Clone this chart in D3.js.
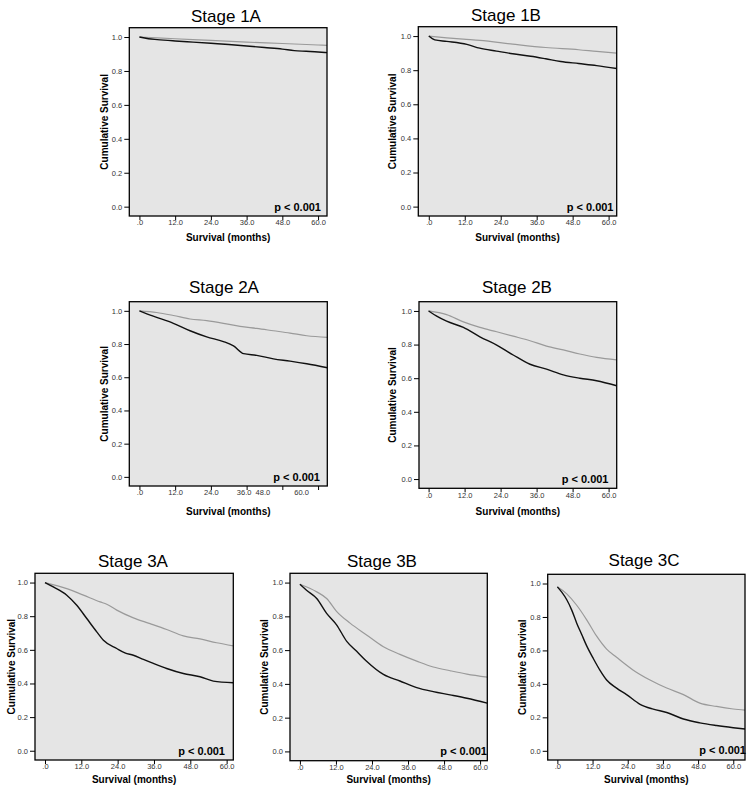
<!DOCTYPE html>
<html>
<head>
<meta charset="utf-8">
<script src="https://cdn.jsdelivr.net/npm/d3@7"></script>
<style>
  html, body { margin: 0; padding: 0; background: #ffffff; }
  svg { display: block; font-family: "Liberation Sans", Arial, sans-serif; }
</style>
</head>
<body>
<svg id="chart" width="754" height="794"></svg>
<script>
// ---------------- DATA ----------------
const stageTitles = ["Stage 1A", "Stage 1B", "Stage 2A", "Stage 2B", "Stage 3A", "Stage 3B", "Stage 3C"];
const yTickValues = [0, 0.2, 0.4, 0.6, 0.8, 1.0];
const xTickValues = [0, 12, 24, 36, 48, 60];
const pValueLabel = "p < 0.001";
const xAxisTitle = "Survival (months)";
const yAxisTitle = "Cumulative Survival";

// Stage 1A
const gray1A_months = [0, 12, 24, 36, 48, 60, 63];
const gray1A_surv   = [1.0, 0.99, 0.98, 0.97, 0.962, 0.953, 0.951];
const black1A_months = [0, 3, 6, 12, 18, 24, 30, 36, 42, 48, 52, 56, 60, 63];
const black1A_surv   = [1.0, 0.99, 0.985, 0.977, 0.97, 0.963, 0.956, 0.947, 0.938, 0.929, 0.92, 0.916, 0.912, 0.908];

// Stage 1B
const gray1B_months = [0, 6, 11.5, 17, 28, 39, 50, 56, 62.7];
const gray1B_surv   = [1.0, 0.99, 0.982, 0.975, 0.953, 0.933, 0.92, 0.91, 0.90];
const black1B_months = [0, 2, 6, 12.7, 17, 22.6, 28, 34, 39, 44, 50, 56, 62.7];
const black1B_surv   = [1.0, 0.978, 0.969, 0.951, 0.929, 0.912, 0.896, 0.882, 0.867, 0.851, 0.839, 0.827, 0.81];

// Stage 2A
const gray2A_months = [0, 5.8, 11.4, 17, 22.6, 28.2, 33.8, 39.4, 45, 50.6, 56.2, 63.2];
const gray2A_surv   = [1.0, 0.99, 0.972, 0.951, 0.941, 0.925, 0.906, 0.894, 0.88, 0.866, 0.85, 0.84];
const black2A_months = [0, 2.5, 5.8, 11.4, 17, 22.6, 28.2, 31.6, 35, 39.4, 45, 50.6, 56.2, 63.2];
const black2A_surv   = [1.0, 0.982, 0.961, 0.925, 0.88, 0.843, 0.815, 0.789, 0.742, 0.732, 0.711, 0.697, 0.681, 0.657];

// Stage 2B
const gray2B_months = [0, 6, 11.6, 17.1, 22.7, 28.2, 33.8, 39.3, 44.9, 50.4, 56, 62.7];
const gray2B_surv   = [1.0, 0.978, 0.935, 0.902, 0.876, 0.85, 0.823, 0.791, 0.768, 0.744, 0.724, 0.709];
const black2B_months = [0, 2.7, 6, 11.6, 17.1, 22.7, 28.2, 33.8, 39.3, 44.9, 50.4, 56, 62.7];
const black2B_surv   = [1.0, 0.969, 0.939, 0.902, 0.846, 0.797, 0.738, 0.683, 0.654, 0.62, 0.6, 0.585, 0.555];

// Stage 3A
const gray3A_months = [0, 7.2, 12.7, 18.2, 20.4, 23.7, 29.2, 34.7, 40.2, 45.7, 51.2, 56.7, 62.2];
const gray3A_surv   = [1.0, 0.964, 0.925, 0.885, 0.871, 0.836, 0.79, 0.756, 0.721, 0.683, 0.665, 0.642, 0.624];
const black3A_months = [0, 2.75, 7.2, 10.5, 13.8, 17.1, 19.3, 23.7, 26.4, 29.2, 32.5, 35.8, 40.2, 45.7, 51.2, 55.6, 62.2];
const black3A_surv   = [1.0, 0.974, 0.925, 0.865, 0.786, 0.707, 0.657, 0.608, 0.582, 0.568, 0.543, 0.519, 0.489, 0.459, 0.44, 0.414, 0.404];

// Stage 3B
const gray3B_months = [0, 5.6, 8.9, 12.2, 16.7, 22.2, 27.8, 33.3, 38.9, 44.4, 50, 55.6, 62.4];
const gray3B_surv   = [0.99, 0.945, 0.906, 0.83, 0.76, 0.69, 0.62, 0.575, 0.535, 0.5, 0.478, 0.458, 0.44];
const black3B_months = [0, 2.2, 5.6, 8.9, 12.2, 15.6, 18.9, 22.2, 27.8, 33.3, 38.9, 44.4, 50, 55.6, 62.4];
const black3B_surv   = [0.99, 0.955, 0.906, 0.818, 0.75, 0.652, 0.593, 0.534, 0.456, 0.417, 0.378, 0.354, 0.335, 0.315, 0.286];

// Stage 3C
const gray3C_months = [0, 3.2, 6.6, 10, 13.4, 16.8, 20.2, 25.9, 31.6, 37.3, 43, 48.6, 54.3, 60, 64];
const gray3C_surv   = [0.98, 0.938, 0.87, 0.783, 0.685, 0.608, 0.559, 0.482, 0.423, 0.375, 0.336, 0.285, 0.265, 0.25, 0.243];
const black3C_months = [0, 1.5, 3.2, 4.9, 6.6, 8.3, 10, 12.3, 14.5, 16.8, 20.2, 23.6, 28.2, 32.7, 37.3, 43, 48.6, 54.3, 60, 64];
const black3C_surv   = [0.98, 0.948, 0.903, 0.841, 0.763, 0.695, 0.627, 0.55, 0.482, 0.423, 0.375, 0.336, 0.278, 0.249, 0.229, 0.19, 0.167, 0.151, 0.138, 0.13];

const grayMonths = [gray1A_months, gray1B_months, gray2A_months, gray2B_months, gray3A_months, gray3B_months, gray3C_months];
const graySurv   = [gray1A_surv, gray1B_surv, gray2A_surv, gray2B_surv, gray3A_surv, gray3B_surv, gray3C_surv];
const blackMonths = [black1A_months, black1B_months, black2A_months, black2B_months, black3A_months, black3B_months, black3C_months];
const blackSurv   = [black1A_surv, black1B_surv, black2A_surv, black2B_surv, black3A_surv, black3B_surv, black3C_surv];

// ---------------- LAYOUT ----------------
const layout = [
  { x: 129.3, y: 27.7,  w: 197.7, h: 188.3, xMin: -3.4, xMax: 63.0, titleX: 226, titleY: 21.5, xLabY: 240.5, yLabX: 104,   pX: 321,   pY: 210.5 },
  { x: 418.3, y: 26.7,  w: 198.4, h: 189.3, xMin: -3.5, xMax: 62.7, titleX: 506, titleY: 21,   xLabY: 240.5, yLabX: 392.7, pX: 613.5, pY: 210.5 },
  { x: 129.3, y: 301.7, w: 198.0, h: 184.3, xMin: -3.4, xMax: 63.1, titleX: 224, titleY: 292.7, xLabY: 514.5, yLabX: 104,  pX: 320,   pY: 480.5 },
  { x: 419.0, y: 301.7, w: 197.7, h: 186.6, xMin: -3.2, xMax: 62.7, titleX: 517, titleY: 292.7, xLabY: 514.5, yLabX: 392.3, pX: 608.5, pY: 483 },
  { x: 35.0,  y: 573.3, w: 198.3, h: 186.7, xMin: -3.3, xMax: 62.2, titleX: 133, titleY: 567,  xLabY: 782.5, yLabX: 11.7,  pX: 225,   pY: 754.5 },
  { x: 290.0, y: 573.3, w: 197.3, h: 187.4, xMin: -3.3, xMax: 62.4, titleX: 382, titleY: 567,  xLabY: 783,   yLabX: 264.3, pX: 487,   pY: 754.5 },
  { x: 547.7, y: 574.3, w: 197.3, h: 185.7, xMin: -3.3, xMax: 64.0, titleX: 644, titleY: 566,  xLabY: 783,   yLabX: 522.7, pX: 746,   pY: 754 }
];
// 2A has its last x tick labels shifted left in the original figure
const tickLabelShift2A = { 36: -3, 48: -20, 60: -17 };

const svg = d3.select("#chart");
const fmtY = d3.format(".1f");
const fmtX = v => v === 0 ? ".0" : d3.format(".1f")(v);

stageTitles.forEach((title, i) => {
  const L = layout[i];
  const g = svg.append("g");
  const x = d3.scaleLinear().domain([L.xMin, L.xMax]).range([L.x, L.x + L.w]);
  const y = d3.scaleLinear().domain([-0.055, 1.055]).range([L.y + L.h, L.y]);

  g.append("rect").attr("x", L.x).attr("y", L.y).attr("width", L.w).attr("height", L.h)
    .attr("fill", "#e5e5e5");

  const clipId = "clip" + i;
  g.append("clipPath").attr("id", clipId).append("rect")
    .attr("x", L.x).attr("y", L.y).attr("width", L.w).attr("height", L.h);

  const line = d3.line().x(d => x(d[0])).y(d => y(d[1])).curve(d3.curveMonotoneX);
  const grayData = grayMonths[i].map((m, k) => [m, graySurv[i][k]]);
  const blackData = blackMonths[i].map((m, k) => [m, blackSurv[i][k]]);

  g.append("path").attr("d", line(grayData)).attr("fill", "none")
    .attr("stroke", "#9a9a9a").attr("stroke-width", 1.2).attr("clip-path", `url(#${clipId})`);
  g.append("path").attr("d", line(blackData)).attr("fill", "none")
    .attr("stroke", "#111").attr("stroke-width", 1.4).attr("clip-path", `url(#${clipId})`);

  const yAxis = d3.axisLeft(y).tickValues(yTickValues).tickFormat(fmtY).tickSize(5).tickPadding(2);
  const ya = g.append("g").attr("transform", `translate(${L.x},0)`).call(yAxis);
  const xAxis = d3.axisBottom(x).tickValues(xTickValues).tickFormat(fmtX).tickSize(4).tickPadding(0);
  const xa = g.append("g").attr("transform", `translate(0,${L.y + L.h})`).call(xAxis);
  [ya, xa].forEach(a => {
    a.select(".domain").remove();
    a.selectAll(".tick line").attr("stroke", "#000").attr("stroke-width", 1);
    a.selectAll(".tick text").attr("fill", "#333").style("font-size", "7.5px")
      .style("font-family", "'Liberation Sans', Arial, sans-serif");
  });
  if (i === 2) {
    xa.selectAll(".tick text").attr("dx", d => tickLabelShift2A[d] || 0);
  }

  g.append("text").attr("x", L.pX).attr("y", L.pY).attr("text-anchor", "end")
    .style("font-size", "11px").style("font-weight", "bold").attr("fill", "#000")
    .text(pValueLabel);

  g.append("rect").attr("x", L.x).attr("y", L.y).attr("width", L.w).attr("height", L.h)
    .attr("fill", "none").attr("stroke", "#000").attr("stroke-width", 1.3);

  g.append("text").attr("x", L.titleX).attr("y", L.titleY).attr("text-anchor", "middle")
    .style("font-size", "17px").attr("fill", "#000").text(title);

  g.append("text").attr("x", L.x + L.w / 2).attr("y", L.xLabY).attr("text-anchor", "middle")
    .style("font-size", "10px").style("font-weight", "bold").attr("fill", "#000").text(xAxisTitle);

  g.append("text")
    .attr("transform", `translate(${L.yLabX},${L.y + L.h / 2}) rotate(-90)`)
    .attr("text-anchor", "middle").attr("dominant-baseline", "central")
    .style("font-size", "10px").style("font-weight", "bold").attr("fill", "#000").text(yAxisTitle);
});
</script>
</body>
</html>
